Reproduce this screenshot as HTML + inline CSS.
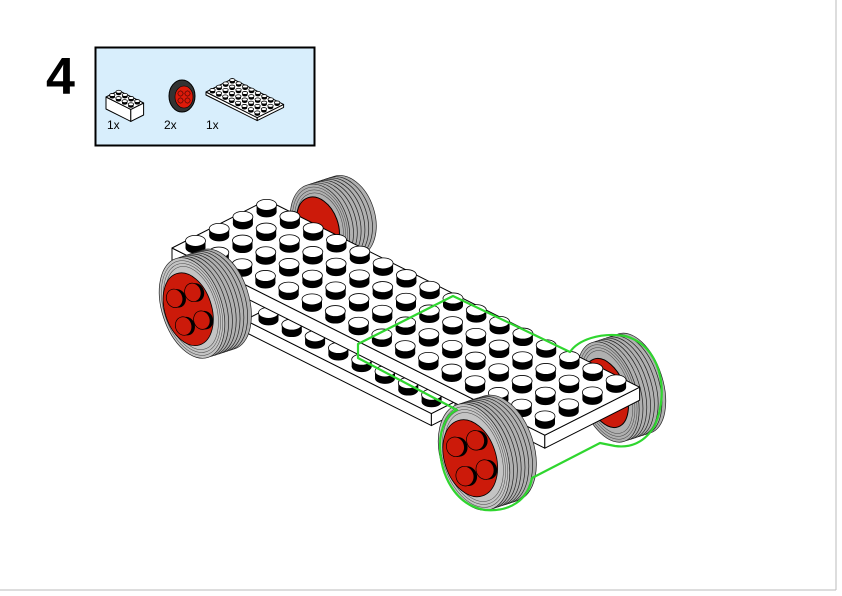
<!DOCTYPE html>
<html><head><meta charset="utf-8"><style>
html,body{margin:0;padding:0;background:#fff}
svg{display:block}
text{font-family:"Liberation Sans",sans-serif}
</style></head><body>
<svg id="s" width="842" height="596" viewBox="0 0 842 596" xmlns="http://www.w3.org/2000/svg">
<line x1="836" y1="0" x2="836" y2="590" stroke="#bbb" stroke-width="1"/>
<line x1="0" y1="590" x2="836" y2="590" stroke="#bbb" stroke-width="1"/>
<text x="46" y="94" font-size="52" font-weight="bold">4</text>
<rect x="95.5" y="47.5" width="219" height="98" fill="#d8eefc" stroke="#000" stroke-width="2"/>
<text x="107" y="129" font-size="12">1x</text>
<text x="164" y="129" font-size="12">2x</text>
<text x="206" y="129" font-size="12">1x</text>
<g id="g"></g>
</svg>
<script>
var g=document.getElementById('g');var out='';
function P(o,u,v,U,V){return [o[0]+u*U[0]+v*V[0],o[1]+u*U[1]+v*V[1]];}
function poly(pts,fill,sw){out+='<polygon points="'+pts.map(p=>p[0].toFixed(1)+','+p[1].toFixed(1)).join(' ')+'" fill="'+fill+'" stroke="#000" stroke-width="'+(sw||1)+'" stroke-linejoin="round"/>';}
function stud(x,y,rx,ry,h,fill){fill=fill||'#fff';
 out+='<ellipse cx="'+x+'" cy="'+y+'" rx="'+rx+'" ry="'+ry+'" fill="#000"/>';
 out+='<rect x="'+(x-rx)+'" y="'+(y-h)+'" width="'+(2*rx)+'" height="'+h+'" fill="#000"/>';
 out+='<ellipse cx="'+x+'" cy="'+(y-h)+'" rx="'+rx+'" ry="'+ry+'" fill="'+fill+'" stroke="#000" stroke-width="0.8"/>';}
function plate(o,nu,nv,U,V,th,sc){
 var A=o,B=P(o,0,nv,U,V),C=P(o,nu,nv,U,V),D=P(o,nu,0,U,V);
 poly([A,D,[D[0],D[1]+th],[A[0],A[1]+th]],'#fff');
 poly([D,C,[C[0],C[1]+th],[D[0],D[1]+th]],'#fff');
 poly([A,B,C,D],'#fff');
 for(var j=nv-1;j>=0;j--)for(var i=0;i<nu;i++){var c=P(o,i+.5,j+.5,U,V);stud(c[0],c[1],10*sc,5.5*sc,7*sc);}
}
function wheel(cx,cy,rx,ry,rot,n,step,hub){
 out+='<g transform="translate('+cx+','+cy+') rotate('+rot+')">';
 for(var k=n;k>=0;k--){out+='<ellipse cx="'+(k*step)+'" cy="0" rx="'+rx+'" ry="'+ry+'" fill="'+(hub&&k==0?'#c4c4c4':'#b0b0b0')+'" stroke="#222" stroke-width="0.7"/>';}
 for(var k=1;k<4;k++){out+='<ellipse cx="0" cy="0" rx="'+(rx-k*2)+'" ry="'+(ry-k*3)+'" fill="none" stroke="#444" stroke-width="0.5"/>';}
 if(hub){var hx=-4;out+='<ellipse cx="'+hx+'" cy="0" rx="'+(rx*0.78)+'" ry="'+(ry*0.72)+'" fill="#cc1a0a" stroke="#000" stroke-width="0.8"/>';
  [[-1,-1],[1,-1],[-1,1],[1,1]].forEach(function(q){var x=hx+q[0]*rx*0.32,y=q[1]*ry*0.28;
   out+='<ellipse cx="'+(x+3)+'" cy="'+(y+1)+'" rx="'+rx*0.27+'" ry="'+ry*0.18+'" fill="#000"/>';
   out+='<ellipse cx="'+x+'" cy="'+y+'" rx="'+rx*0.27+'" ry="'+ry*0.18+'" fill="#cc1a0a" stroke="#000" stroke-width="0.7"/>';});}
 out+='</g>';}
var U=[23.3,11.7],V=[23.7,-12];
var u=[6.2,3.1],v=[6.4,-3.2];
(function(){var o=[106,97],th=12,A=o,B=P(o,0,2,u,v),C=P(o,4,2,u,v),D=P(o,4,0,u,v);
 poly([A,D,[D[0],D[1]+th],[A[0],A[1]+th]],'#fff');poly([D,C,[C[0],C[1]+th],[D[0],D[1]+th]],'#fff');poly([A,B,C,D],'#fff');
 for(var j=1;j>=0;j--)for(var i=0;i<4;i++){var c=P(o,i+.5,j+.5,u,v);stud(c[0],c[1],2.7,1.5,2);}})();
out+='<ellipse cx="182" cy="96" rx="13" ry="16" fill="#333" stroke="#000"/><ellipse cx="184" cy="97" rx="9" ry="11" fill="#dd1a0a" stroke="#000" stroke-width="0.6"/>';
[[-1,-1],[1,-1],[-1,1],[1,1]].forEach(function(q){out+='<circle cx="'+(184+q[0]*3.5)+'" cy="'+(97+q[1]*3.5)+'" r="2.6" fill="#dd1a0a" stroke="#000" stroke-width="0.5"/>';});
(function(){var o=[206,92],th=3,uu=[6.4,3.2],vv=[6.6,-3.3],A=o,B=P(o,0,4,uu,vv),C=P(o,8,4,uu,vv),D=P(o,8,0,uu,vv);
 poly([A,D,[D[0],D[1]+th],[A[0],A[1]+th]],'#fff');poly([D,C,[C[0],C[1]+th],[D[0],D[1]+th]],'#fff');poly([A,B,C,D],'#fff');
 for(var j=3;j>=0;j--)for(var i=0;i<8;i++){var c=P(o,i+.5,j+.5,uu,vv);stud(c[0],c[1],2.7,1.5,2);}})();
// back wheels
wheel(320,225,28,42,-18,7,4,false);
out+='<ellipse cx="318" cy="226" rx="20" ry="30" transform="rotate(-20 318 226)" fill="#cc1a0a" stroke="#000"/>';
wheel(608,392,28,52,-18,7,4,false);
out+='<ellipse cx="606" cy="393" rx="20" ry="36" transform="rotate(-20 606 393)" fill="#cc1a0a" stroke="#000"/>';
// lower strip
(function(){var o=[245,320];var B=P(o,0,1,U,V),D=P(o,8,0,U,V),C=P(o,8,1,U,V),th=12;
 poly([o,D,[D[0],D[1]+th],[o[0],o[1]+th]],'#fff');poly([D,C,[C[0],C[1]+th],[D[0],D[1]+th]],'#fff');poly([o,B,C,D],'#fff');
 for(var i=0;i<8;i++){var c=P(o,i+.5,.5,U,V);stud(c[0],c[1],10,5.5,7);}})();
plate([172,248],16,4,U,V,13,1);
// front wheels
wheel(192,308,30,52,-18,7,4,true);
wheel(474,457,33,55,-18,7,4,true);
out+='<path d="M358,344 L453,296 L570,352 C578,340 600,332 625,336 C660,345 670,390 655,425 C645,443 630,448 615,446 L600,443 L532,478 C528,500 510,512 485,510 C455,505 440,475 440,445 C440,425 450,412 457,410 L358,358 Z" fill="none" stroke="#2fd62f" stroke-width="2.2" stroke-linejoin="round"/>';
g.innerHTML=out;
</script>
</body></html>
